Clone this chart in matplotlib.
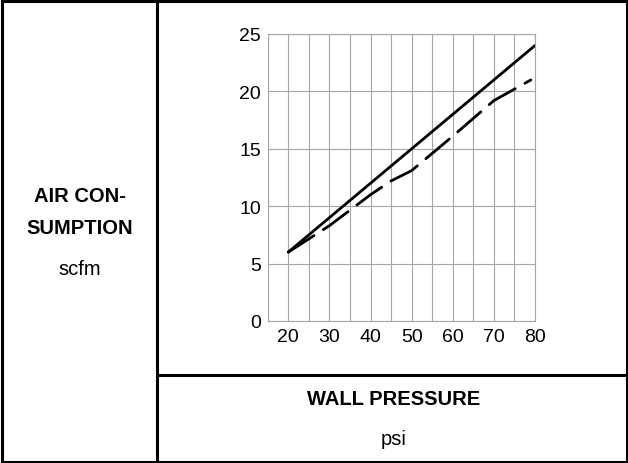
import matplotlib
matplotlib.use("Agg")
import matplotlib.pyplot as plt
from matplotlib.lines import Line2D

plt.rcParams['font.family'] = ['Liberation Sans', 'DejaVu Sans']

# --- données ---
pressure_solid = [20, 80]
air_solid = [6, 24]

pressure_dash = [20, 30, 40, 45, 50, 60, 70, 79]
air_dash = [6, 8.3, 11, 12.2, 13.1, 16.1, 19.2, 21]

x_ticks = [20, 30, 40, 50, 60, 70, 80]
y_ticks = [0, 5, 10, 15, 20, 25]

fig = plt.figure(figsize=(6.28, 4.64), dpi=100)

# --- cadre du tableau ---
W, H = 628.0, 464.0
def fx(px):
    return px / W
def fy(py):
    return 1 - py / H

lw = 2.2
for (x0, y0, x1, y1) in [(1.5, 1.5, 626.5, 1.5), (1.5, 462.5, 626.5, 462.5),
                         (1.5, 1.5, 1.5, 462.5), (626.5, 1.5, 626.5, 462.5),
                         (157, 1.5, 157, 462.5), (157, 376, 626.5, 376)]:
    fig.add_artist(Line2D([fx(x0), fx(x1)], [fy(y0), fy(y1)], color='black', lw=lw))

# --- textes ---
fs = 14.5
fig.text(fx(80), fy(196), "AIR CON-", ha='center', va='center', fontsize=fs, fontweight='bold')
fig.text(fx(80), fy(229), "SUMPTION", ha='center', va='center', fontsize=fs, fontweight='bold')
fig.text(fx(80), fy(270), "scfm", ha='center', va='center', fontsize=fs)
fig.text(fx(394), fy(400), "WALL PRESSURE", ha='center', va='center', fontsize=fs, fontweight='bold')
fig.text(fx(394), fy(440), "psi", ha='center', va='center', fontsize=fs)

# --- zone du graphique ---
ax = fig.add_axes([fx(267.7), fy(322), (535 - 267.7) / W, (322 - 35) / H])
ax.set_xlim(15, 80)
ax.set_ylim(0, 25)

ax.set_xticks(range(15, 81, 5), minor=True)
ax.set_xticks(x_ticks)
ax.set_yticks(y_ticks)
ax.grid(True, which='both', axis='x', color='#a6a6a6', lw=0.8)
ax.grid(True, which='major', axis='y', color='#a6a6a6', lw=0.8)
ax.tick_params(which='both', length=0, labelsize=14, pad=5)
for s in ax.spines.values():
    s.set_color('#a6a6a6')
    s.set_linewidth(0.8)

ax.plot(pressure_solid, air_solid, color='black', lw=2, solid_capstyle='round')
ax.plot(pressure_dash, air_dash, color='black', lw=2, dashes=(11, 4), dash_capstyle='round')

fig.savefig("out.png", dpi=100)
